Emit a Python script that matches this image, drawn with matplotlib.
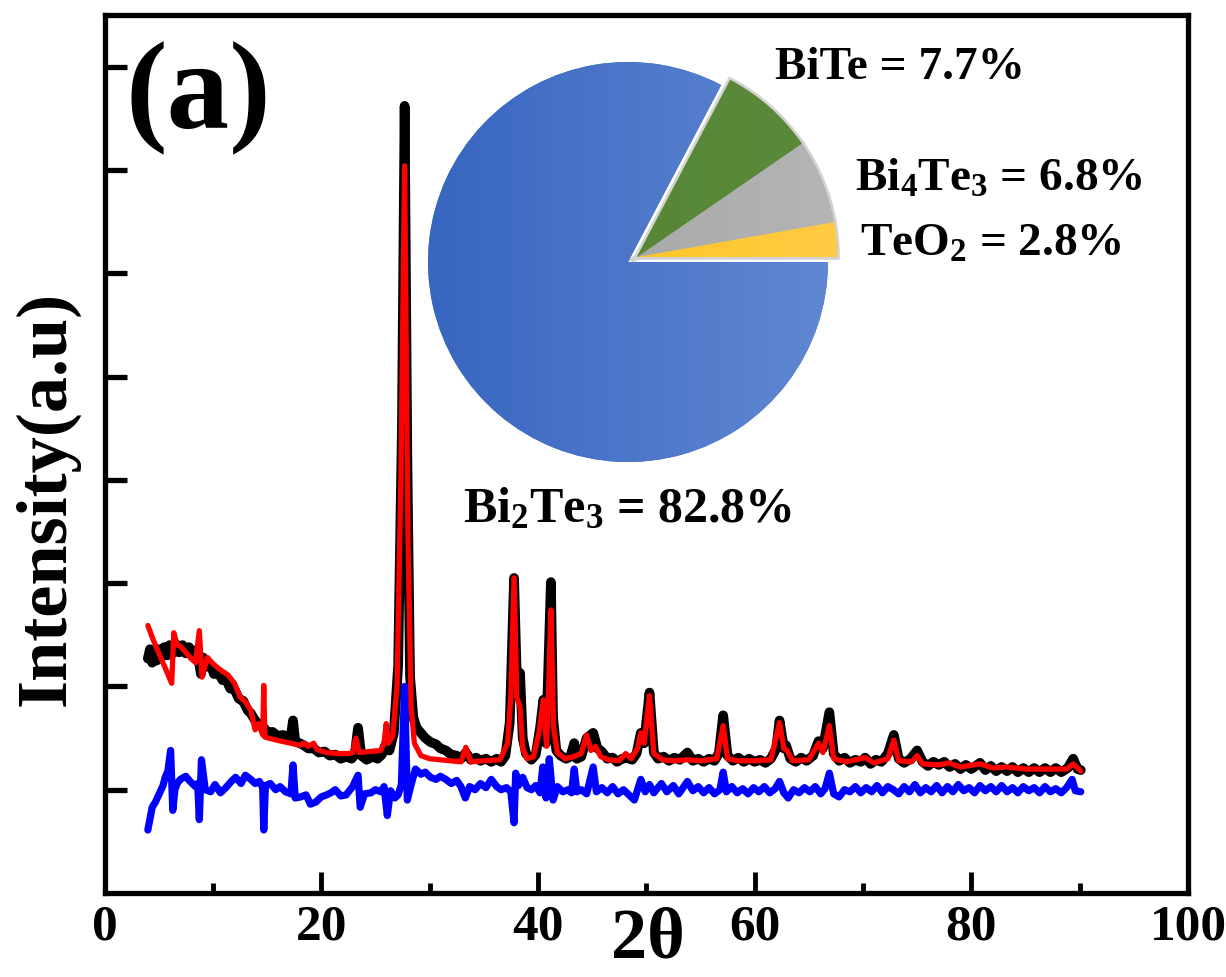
import numpy as np
import matplotlib
matplotlib.use("Agg")
import matplotlib.pyplot as plt
from matplotlib.colors import LinearSegmentedColormap

plt.rcParams['font.family'] = ['Liberation Serif', 'DejaVu Serif']
plt.rcParams['font.weight'] = 'bold'
plt.rcParams['mathtext.fontset'] = 'custom'
plt.rcParams['mathtext.rm'] = 'Liberation Serif:bold'
plt.rcParams['mathtext.it'] = 'Liberation Serif:bold'
plt.rcParams['mathtext.bf'] = 'Liberation Serif:bold'
plt.rcParams['mathtext.default'] = 'rm'

# ---------------- data ----------------
obs_x = [4.0, 4.2, 4.4, 4.6, 4.8, 5.0, 5.2, 5.5, 5.8, 6.0, 6.3, 6.6, 6.9, 7.2, 7.5, 7.8, 8.1, 8.4, 8.7, 8.9,
         9.1, 9.4, 9.8, 10.1, 10.5, 10.9, 11.2, 11.6, 12.0, 12.4, 12.8, 13.2, 13.5, 13.9, 14.3, 14.7, 15.1,
         15.5, 16.0, 16.5, 17.0, 17.2, 17.4, 17.6, 18.0, 18.4, 18.8, 19.3, 19.8, 20.3, 20.8, 21.3, 21.8,
         22.3, 22.8, 23.1, 23.4, 23.7, 24.2, 24.7, 25.2, 25.6, 26.0, 26.3, 26.7, 27.1, 27.45, 27.7, 27.95,
         28.2, 28.5, 28.8, 29.2, 29.6, 30.1, 30.6, 31.0, 31.5, 32.0, 32.5, 32.9, 33.35, 33.8, 34.3, 34.7,
         35.2, 35.7, 36.2, 36.6, 37.0, 37.4, 37.8, 38.1, 38.35, 38.6, 38.9, 39.4, 39.8, 40.2, 40.5, 40.75,
         41.0, 41.2, 41.4, 41.7, 42.1, 42.6, 43.0, 43.35, 43.6, 44.0, 44.5, 45.1, 45.5, 45.9, 46.4, 46.9,
         47.3, 47.8, 48.2, 48.7, 49.1, 49.5, 49.8, 50.3, 50.7, 51.1, 51.6, 52.1, 52.6, 53.1, 53.8, 54.3,
         54.8, 55.3, 55.8, 56.3, 56.7, 57.1, 57.5, 58.0, 58.5, 59.0, 59.5, 60.0, 60.5, 61.0, 61.5, 62.0,
         62.3, 62.7, 62.9, 63.3, 63.8, 64.3, 64.8, 65.4, 65.9, 66.3, 66.9, 67.3, 67.8, 68.3, 68.8, 69.3,
         69.8, 70.2, 70.7, 71.2, 71.7, 72.3, 72.85, 73.3, 73.8, 74.4, 75.0, 75.5, 76.0, 76.5, 77.0, 77.5,
         78.0, 78.5, 79.0, 79.5, 80.0, 80.8, 81.3, 81.8, 82.3, 82.8, 83.3, 83.8, 84.3, 84.8, 85.3, 85.8,
         86.3, 86.8, 87.3, 87.8, 88.3, 88.9, 89.4, 89.8, 90.1]
obs_y = [2.27, 2.36, 2.23, 2.34, 2.25, 2.36, 2.27, 2.38, 2.30, 2.40, 2.32, 2.41, 2.33, 2.40, 2.32, 2.38, 2.29, 2.35, 2.25, 2.12,
         2.28, 2.19, 2.21, 2.12, 2.13, 2.06, 2.07, 1.98, 1.97, 1.88, 1.86, 1.77, 1.74, 1.67, 1.63, 1.60, 1.55,
         1.56, 1.52, 1.53, 1.49, 1.52, 1.67, 1.47, 1.45, 1.43, 1.40, 1.40, 1.36, 1.37, 1.33, 1.34, 1.30,
         1.32, 1.30, 1.34, 1.60, 1.33, 1.29, 1.32, 1.30, 1.34, 1.45, 1.38, 1.55, 2.20, 4.50, 7.62, 4.20,
         2.10, 1.70, 1.60, 1.55, 1.50, 1.46, 1.44, 1.40, 1.38, 1.34, 1.33, 1.30, 1.36, 1.29, 1.31, 1.28,
         1.30, 1.27, 1.30, 1.27, 1.33, 1.65, 3.05, 1.90, 2.13, 1.50, 1.35, 1.29, 1.34, 1.60, 1.87, 1.45,
         2.30, 3.01, 1.70, 1.38, 1.33, 1.30, 1.32, 1.45, 1.30, 1.32, 1.50, 1.55, 1.40, 1.37, 1.30, 1.31,
         1.27, 1.30, 1.31, 1.29, 1.35, 1.55, 1.45, 1.94, 1.36, 1.30, 1.32, 1.28, 1.31, 1.29, 1.36, 1.28,
         1.30, 1.27, 1.30, 1.28, 1.35, 1.72, 1.33, 1.28, 1.31, 1.27, 1.30, 1.27, 1.29, 1.26, 1.30, 1.40,
         1.67, 1.40, 1.43, 1.30, 1.27, 1.31, 1.28, 1.33, 1.47, 1.40, 1.75, 1.35, 1.28, 1.31, 1.26, 1.29,
         1.27, 1.31, 1.25, 1.29, 1.27, 1.35, 1.53, 1.30, 1.26, 1.30, 1.38, 1.27, 1.23, 1.27, 1.24, 1.27,
         1.22, 1.25, 1.20, 1.24, 1.20, 1.26, 1.19, 1.23, 1.18, 1.22, 1.18, 1.22, 1.17, 1.21, 1.17, 1.21,
         1.17, 1.21, 1.17, 1.21, 1.17, 1.21, 1.30, 1.20, 1.19]

calc_x = [4.0, 4.5, 5.1, 5.6, 6.2, 6.4, 6.7, 7.0, 7.5, 8.0, 8.4, 8.75, 9.0, 9.5, 10.0, 10.7, 11.4, 12.0,
          12.5, 13.0, 13.5, 13.9, 14.2, 14.6, 14.7, 14.8, 15.5, 16.3, 17.2, 18.0, 18.4, 18.8, 19.3, 19.6,
          20.5, 21.5, 22.5, 22.9, 23.2, 23.5, 24.5, 25.5, 25.8, 26.0, 26.2, 26.6, 27.0, 27.35, 27.7, 28.0,
          28.3, 28.6, 29.2, 30.0, 31.0, 32.0, 32.9, 33.35, 33.8, 35.0, 36.5, 37.2, 37.5, 37.8, 38.05, 38.35,
          38.6, 39.0, 39.6, 40.1, 40.5, 40.8, 41.0, 41.2, 41.45, 41.8, 42.5, 43.3, 44.0, 44.5, 44.9, 45.3,
          45.8, 46.5, 47.5, 48.1, 48.6, 49.2, 49.5, 49.8, 50.3, 50.7, 51.5, 52.5, 53.8, 55.0, 56.5, 57.1,
          57.5, 58.5, 60.0, 61.5, 62.3, 62.7, 63.0, 63.5, 65.0, 65.9, 66.3, 66.9, 67.3, 68.5, 70.2, 71.0,
          72.3, 72.85, 73.3, 74.5, 75.0, 75.5, 77.0, 77.9, 79.0, 80.8, 82.0, 83.3, 85.0, 87.0, 88.8, 89.4, 90.1]
calc_y = [2.59, 2.45, 2.30, 2.18, 2.03, 2.52, 2.40, 2.39, 2.33, 2.27, 2.23, 2.54, 2.09, 2.28, 2.22, 2.16, 2.11, 2.03,
          1.90, 1.85, 1.77, 1.58, 1.64, 1.53, 2.01, 1.51, 1.49, 1.47, 1.45, 1.43, 1.45, 1.42, 1.45, 1.39,
          1.36, 1.35, 1.35, 1.36, 1.50, 1.36, 1.37, 1.38, 1.45, 1.64, 1.45, 1.52, 2.00, 4.00, 7.04, 3.50,
          1.80, 1.45, 1.33, 1.30, 1.29, 1.28, 1.27, 1.41, 1.27, 1.28, 1.29, 1.45, 1.90, 3.05, 1.90, 1.80,
          1.40, 1.30, 1.32, 1.55, 1.87, 1.42, 2.00, 2.74, 1.60, 1.36, 1.30, 1.32, 1.35, 1.53, 1.38, 1.42,
          1.32, 1.29, 1.28, 1.35, 1.30, 1.40, 1.55, 1.45, 1.91, 1.35, 1.29, 1.28, 1.29, 1.28, 1.30, 1.62,
          1.30, 1.28, 1.28, 1.29, 1.65, 1.40, 1.38, 1.28, 1.29, 1.45, 1.36, 1.62, 1.30, 1.27, 1.31, 1.26,
          1.30, 1.48, 1.28, 1.27, 1.33, 1.25, 1.24, 1.26, 1.22, 1.25, 1.21, 1.22, 1.20, 1.20, 1.20, 1.25, 1.18]

diff_x = [4.0, 4.2, 4.4, 4.7, 5.1, 5.4, 5.6, 5.85, 6.1, 6.3, 6.5, 6.7, 7.0, 7.5, 7.9, 8.4, 8.6, 8.75, 8.95,
          9.3, 9.8, 10.2, 10.7, 11.2, 11.7, 12.1, 12.6, 13.0, 13.5, 13.9, 14.3, 14.6, 14.7, 14.85, 15.3, 15.8,
          16.2, 16.7, 17.2, 17.4, 17.6, 18.1, 18.6, 19.0, 19.5, 20.0, 20.5, 20.9, 21.3, 21.8, 22.3, 22.9, 23.4,
          23.6, 24.0, 24.6, 25.0, 25.5, 25.8, 26.1, 26.4, 26.8, 27.1, 27.4, 27.7, 27.95, 28.3, 28.7, 29.2,
          29.6, 30.1, 30.6, 31.0, 31.5, 32.0, 32.5, 32.9, 33.3, 33.7, 34.2, 34.7, 35.2, 35.7, 36.2, 36.6,
          37.1, 37.5, 37.8, 37.95, 38.2, 38.6, 39.0, 39.4, 39.8, 40.2, 40.45, 40.75, 41.05, 41.4, 41.8, 42.3,
          42.8, 43.1, 43.35, 43.6, 44.0, 44.5, 45.1, 45.4, 45.9, 46.4, 46.9, 47.4, 47.9, 48.4, 48.9, 49.5,
          49.9, 50.3, 50.7, 51.4, 51.9, 52.5, 53.0, 53.8, 54.3, 54.8, 55.3, 55.8, 56.3, 56.8, 57.1, 57.4,
          57.9, 58.4, 58.9, 59.4, 59.9, 60.4, 60.9, 61.4, 61.9, 62.3, 62.7, 63.1, 63.6, 64.1, 64.6, 65.1,
          65.6, 66.1, 66.5, 66.9, 67.3, 67.8, 68.3, 68.8, 69.3, 69.8, 70.3, 70.8, 71.3, 71.8, 72.3, 72.8,
          73.3, 73.8, 74.3, 74.8, 75.3, 75.8, 76.3, 76.8, 77.3, 77.8, 78.3, 78.8, 79.3, 79.8, 80.3, 80.8,
          81.3, 81.8, 82.3, 82.8, 83.3, 83.8, 84.3, 84.8, 85.3, 85.8, 86.3, 86.8, 87.3, 87.8, 88.3, 88.8,
          89.3, 89.6, 90.1]
diff_y = [0.61, 0.72, 0.83, 0.88, 0.97, 1.04, 1.12, 1.18, 1.38, 0.80, 1.00, 1.06, 1.10, 1.13, 1.08, 1.03, 1.06, 0.71, 1.29,
          1.00, 0.98, 1.05, 0.97, 1.02, 1.08, 1.12, 1.06, 1.14, 1.10, 1.06, 1.08, 1.02, 0.61, 1.04, 1.06, 1.00,
          1.03, 0.98, 0.96, 1.24, 0.92, 0.93, 0.95, 0.86, 0.88, 0.93, 0.95, 0.97, 1.00, 0.94, 0.95, 1.03, 1.14,
          0.83, 0.96, 0.97, 1.00, 0.98, 1.03, 0.75, 0.99, 0.92, 0.95, 1.05, 2.00, 0.90, 1.05, 1.20, 1.15,
          1.17, 1.12, 1.10, 1.13, 1.10, 1.06, 1.09, 1.03, 0.92, 1.03, 1.00, 1.06, 1.02, 1.10, 1.03, 1.00,
          1.02, 0.98, 0.68, 1.16, 1.04, 1.12, 1.02, 1.00, 1.04, 0.97, 1.22, 0.92, 1.30, 0.90, 1.03, 0.98,
          1.00, 0.97, 1.20, 0.98, 1.00, 0.96, 1.22, 0.98, 1.02, 0.97, 1.03, 0.96, 1.00, 0.95, 0.90, 1.10,
          0.98, 1.05, 0.97, 1.06, 0.98, 1.04, 0.96, 1.08, 0.99, 1.03, 0.97, 1.02, 0.96, 1.00, 1.17, 0.98,
          1.03, 0.97, 1.01, 0.96, 1.02, 0.98, 1.03, 0.97, 1.01, 1.08, 0.97, 0.92, 1.00, 0.97, 1.02, 0.98,
          1.03, 0.96, 1.01, 1.16, 0.96, 0.93, 1.00, 0.98, 1.03, 0.97, 1.02, 0.98, 1.04, 0.97, 1.03, 1.00,
          0.96, 1.03, 0.98, 1.05, 0.97, 1.02, 0.98, 1.04, 0.97, 1.03, 0.98, 1.05, 0.99, 1.02, 0.97, 1.04,
          0.99, 1.03, 0.98, 1.04, 0.98, 1.02, 0.97, 1.03, 0.99, 1.02, 0.97, 1.03, 0.98, 1.01, 0.97, 1.02,
          1.10, 0.99, 0.98]

phases = ['TeO$_2$', 'Bi$_4$Te$_3$', 'BiTe', 'Bi$_2$Te$_3$']
fractions = [2.8, 6.8, 7.7, 82.8]

x_ticks = [0, 20, 40, 60, 80, 100]
x_minor = [10, 30, 50, 70, 90]
y_ticks = [1, 2, 3, 4, 5, 6, 7, 8]

# ---------------- figure ----------------
W, H = 1226, 977
fig = plt.figure(figsize=(W / 100, H / 100), dpi=100)


def fx(p):
    return p / W


def fy(p):
    return 1 - p / H


ax = fig.add_axes([fx(104.5), fy(893), (1188 - 104.5) / W, (893 - 15) / H])
ax.plot(obs_x, obs_y, color='black', lw=7.0, solid_joinstyle='round', solid_capstyle='round', zorder=2)
ax.plot(calc_x, calc_y, color='#ff0000', lw=3.8, solid_joinstyle='round', solid_capstyle='round', zorder=3)
ax.plot(diff_x, diff_y, color='#0000ff', lw=5.2, solid_joinstyle='round', solid_capstyle='round', zorder=2)

ax.set_xlim(0, 100)
ax.set_ylim(0, 8.5)
ax.set_xticks(x_ticks)
ax.set_xticks(x_minor, minor=True)
ax.set_xticklabels([str(v) for v in x_ticks])
ax.set_yticks(y_ticks)
ax.set_yticklabels([])
ax.tick_params(axis='x', which='major', direction='in', length=15, width=3.5, labelsize=37, pad=8)
ax.tick_params(axis='x', which='minor', direction='in', length=7, width=3.5)
ax.tick_params(axis='y', which='major', direction='in', length=16, width=3.8)
for lab in ax.get_xticklabels():
    lab.set_fontweight('bold')
for s in ax.spines.values():
    s.set_linewidth(3.8)

fig.text(fx(648), fy(940), '2θ', fontsize=52, fontweight='bold', ha='center', va='center')
fig.text(fx(47), fy(498), 'Intensity(a.u)', fontsize=52, fontweight='bold', ha='center', va='center', rotation=90)
fig.text(fx(198), fy(98), '(a)', fontsize=90, fontweight='bold', ha='center', va='center')

# ---------------- pie inset ----------------
pax = fig.add_axes([fx(408), fy(482), 440 / W, 440 / H])
base_cols = ['#FFC000', '#A5A5A5', '#548235', '#4472C4']
grad_cols = [('#FFBE00', '#FFCC48'), ('#9C9C9C', '#B6B6B6'), ('#548235', '#5A8A3A'), ('#3564BF', '#6389D3')]
shift = (0.045, 0.025)

# soft shadow outline for the small slices
sh, _ = pax.pie(fractions, startangle=0, counterclock=True, radius=1.0,
                colors=['#cfcfcf'] * 4, wedgeprops=dict(linewidth=0))
for i, w in enumerate(sh):
    if i < 3:
        w.set_center(shift)
        w.set_edgecolor('#d2d2d2')
        w.set_linewidth(4)
    else:
        w.set_visible(False)
    w.set_zorder(1)

wedges, _ = pax.pie(fractions, startangle=0, counterclock=True, radius=1.0,
                    colors=base_cols, wedgeprops=dict(linewidth=0))
g = np.linspace(0, 1, 256).reshape(1, -1)
for i, w in enumerate(wedges):
    if i < 3:
        w.set_center(shift)
    w.set_zorder(2)
    cmap = LinearSegmentedColormap.from_list('g%d' % i, list(grad_cols[i]))
    im = pax.imshow(g, cmap=cmap, extent=(-1.1, 1.1, -1.1, 1.1), aspect='auto',
                    interpolation='bilinear', zorder=3)
    im.set_clip_path(w)
pax.set_xlim(-1.1, 1.1)
pax.set_ylim(-1.1, 1.1)
pax.set_aspect('equal')
pax.axis('off')

label_pos = [(991, 245), (999, 180), (900, 68), (628, 510)]
label_size = [34, 34, 34, 36]
for name, val, (px, py), fs in zip(phases, fractions, label_pos, label_size):
    fig.text(fx(px), fy(py), f'{name} = {val}%', fontsize=fs, fontweight='bold', ha='center', va='center')

fig.savefig('out.png', dpi=100)
